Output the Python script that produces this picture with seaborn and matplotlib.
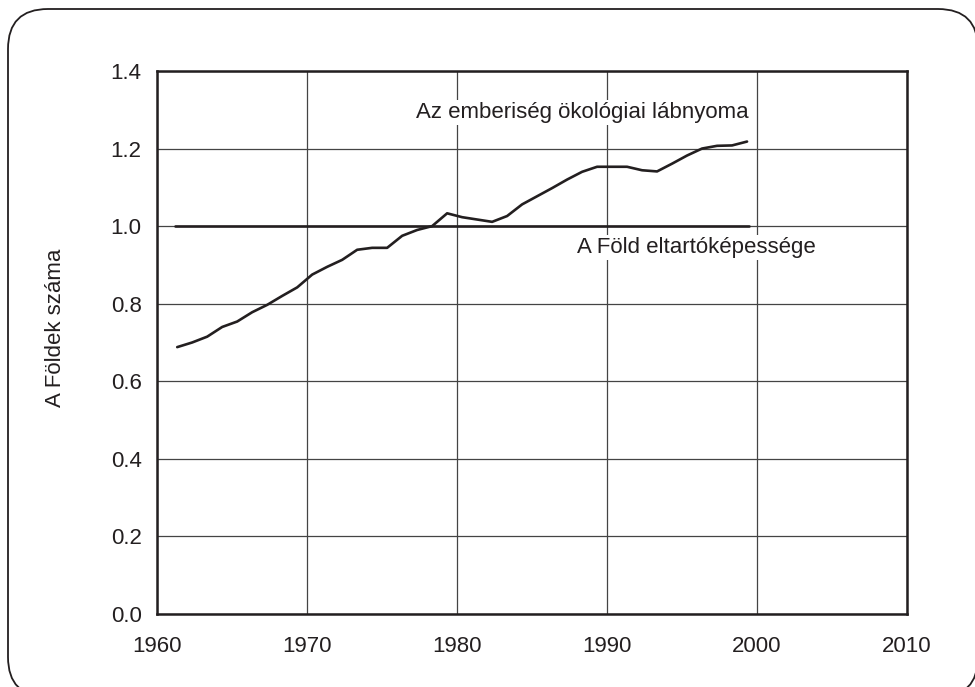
import matplotlib
matplotlib.use("Agg")
import matplotlib.pyplot as plt
import matplotlib.patches as mpatches
import numpy as np
import pandas as pd
import seaborn as sns

# data
years = np.arange(1961, 2000)
footprint = [0.688, 0.700, 0.715, 0.740, 0.754, 0.778, 0.797, 0.820, 0.842, 0.875,
             0.895, 0.913, 0.939, 0.944, 0.944, 0.975, 0.990, 1.000, 1.033, 1.023,
             1.017, 1.011, 1.026, 1.056, 1.077, 1.098, 1.120, 1.140, 1.153, 1.153,
             1.153, 1.144, 1.141, 1.161, 1.182, 1.200, 1.207, 1.208, 1.218]
capacity_years = [1961.2, 1999.5]
capacity = [1.0, 1.0]

label_footprint = "Az emberiség ökológiai lábnyoma"
label_capacity = "A Föld eltartóképessége"
ylabel = "A Földek száma"
xticks = [1960, 1970, 1980, 1990, 2000, 2010]
yticks = [0.0, 0.2, 0.4, 0.6, 0.8, 1.0, 1.2, 1.4]

sns.set_style("white")
plt.rcParams['font.family'] = ['Liberation Sans', 'DejaVu Sans']

ink = "#231f20"
fig = plt.figure(figsize=(9.75, 6.87), dpi=100)

# background axes in pixel units for the rounded frame
bg = fig.add_axes([0, 0, 1, 1], zorder=-1)
bg.set_xlim(0, 975)
bg.set_ylim(0, 687)
bg.axis("off")
box = mpatches.FancyBboxPatch((8, -10), 970, 688, boxstyle="round,pad=0,rounding_size=40")
# flatten the curved corners so the part outside the canvas clips cleanly
outline = box.get_path().to_polygons()[0]
bg.add_patch(mpatches.Polygon(outline, closed=True, fill=False, edgecolor=ink,
                              linewidth=1.3, clip_on=False))

ax = fig.add_axes([0.161, 0.1063, 0.769, 0.7904])
ax.patch.set_alpha(0)

df = pd.DataFrame({"year": years + 0.35, "value": footprint})
cap = pd.DataFrame({"year": capacity_years, "value": capacity})
sns.lineplot(data=df, x="year", y="value", ax=ax, color=ink, linewidth=1.9, zorder=3)
sns.lineplot(data=cap, x="year", y="value", ax=ax, color=ink, linewidth=1.9, zorder=3)

ax.set_xlim(1960, 2010)
ax.set_ylim(0, 1.4)
ax.set_xticks(xticks)
ax.set_yticks(yticks)
ax.set_yticklabels([f"{v:.1f}" for v in yticks])
ax.grid(True, color="#444444", linewidth=0.9)
ax.set_axisbelow(True)
for s in ax.spines.values():
    s.set_visible(True)
    s.set_color(ink)
    s.set_linewidth(1.8)
ax.tick_params(axis="both", direction="out", length=6, width=1.8, color=ink,
               labelsize=16, labelcolor=ink)
ax.tick_params(axis="x", pad=10)
ax.tick_params(axis="y", pad=5)
ax.set_xlabel("")
ax.set_ylabel(ylabel, fontsize=16, color=ink)
ax.yaxis.set_label_coords(-0.122, 0.527)

bb = dict(facecolor="white", edgecolor="none", pad=1.5)
ax.text(1977.3, 1.292, label_footprint, fontsize=16, color=ink, ha="left", va="center", bbox=bb, zorder=4)
ax.text(1988.0, 0.944, label_capacity, fontsize=16, color=ink, ha="left", va="center", bbox=bb, zorder=4)

fig.savefig("out.png", dpi=100)
